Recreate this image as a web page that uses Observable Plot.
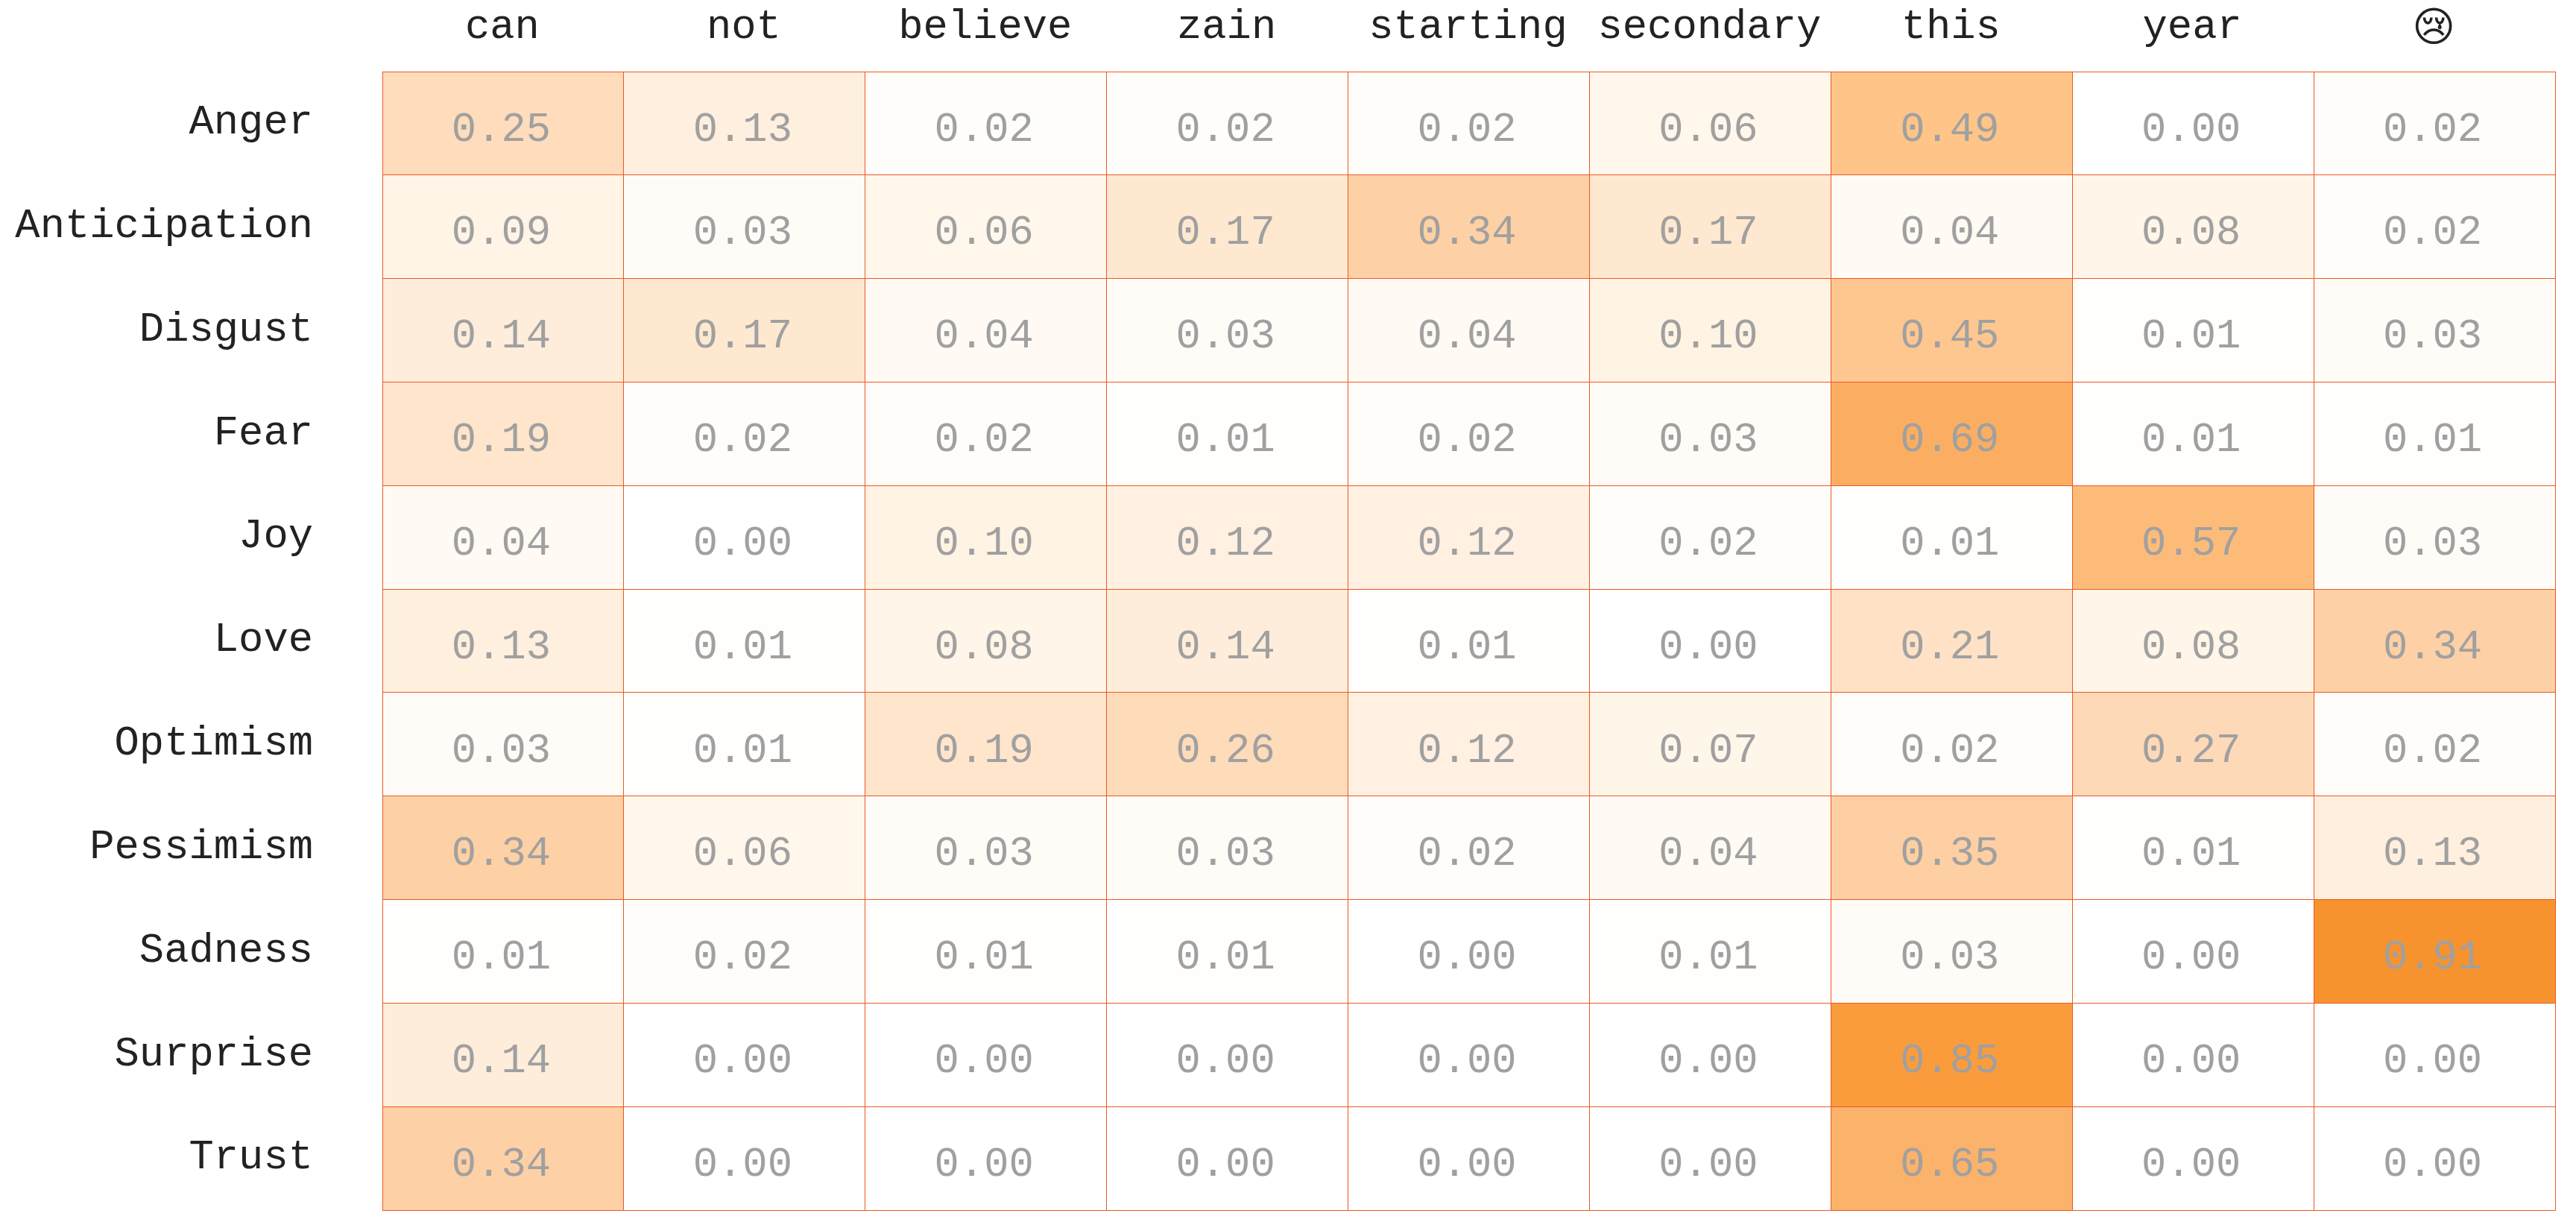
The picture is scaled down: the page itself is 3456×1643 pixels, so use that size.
<!DOCTYPE html>
<html>
<head>
<meta charset="utf-8">
<style>html,body{margin:0;padding:0;background:#fff;}svg{display:block;}</style>
<script src="https://cdn.jsdelivr.net/npm/d3@7"></script>
<script src="https://cdn.jsdelivr.net/npm/@observablehq/plot@0.6"></script>
</head>
<body>
<div id="chart"></div>
<script>
const wordTokens = ["can","not","believe","zain","starting","secondary","this","year"];
const emojiToken = "😢";
const tokens = [...wordTokens, emojiToken];
const emotions = ["Anger","Anticipation","Disgust","Fear","Joy","Love","Optimism","Pessimism","Sadness","Surprise","Trust"];
const anger = [0.25,0.13,0.02,0.02,0.02,0.06,0.49,0.00,0.02];
const anticipation = [0.09,0.03,0.06,0.17,0.34,0.17,0.04,0.08,0.02];
const disgust = [0.14,0.17,0.04,0.03,0.04,0.10,0.45,0.01,0.03];
const fear = [0.19,0.02,0.02,0.01,0.02,0.03,0.69,0.01,0.01];
const joy = [0.04,0.00,0.10,0.12,0.12,0.02,0.01,0.57,0.03];
const love = [0.13,0.01,0.08,0.14,0.01,0.00,0.21,0.08,0.34];
const optimism = [0.03,0.01,0.19,0.26,0.12,0.07,0.02,0.27,0.02];
const pessimism = [0.34,0.06,0.03,0.03,0.02,0.04,0.35,0.01,0.13];
const sadness = [0.01,0.02,0.01,0.01,0.00,0.01,0.03,0.00,0.91];
const surprise = [0.14,0.00,0.00,0.00,0.00,0.00,0.85,0.00,0.00];
const trust = [0.34,0.00,0.00,0.00,0.00,0.00,0.65,0.00,0.00];
const rows = [anger,anticipation,disgust,fear,joy,love,optimism,pessimism,sadness,surprise,trust];
const colorStops = [0,0.01,0.03,0.06,0.09,0.13,0.17,0.25,0.34,0.49,0.65,0.85,0.91];
const colorRange = ["#ffffff","#fffefc","#fffcf8","#fff7ec","#fff4e6","#ffefdf","#ffe8d0","#fedcbc","#fed0a5","#fec488","#fbb26a","#fa9c3c","#f6932f"];

const data = rows.flatMap((r,i)=>r.map((v,j)=>({emotion:emotions[i],token:tokens[j],value:v})));
const mono = '"Liberation Mono","DejaVu Sans",monospace';

const plot = Plot.plot({
  width:3456, height:1643,
  marginLeft:513, marginRight:28, marginTop:96, marginBottom:20,
  style:{fontFamily:mono, background:"#fff"},
  x:{domain:tokens, padding:0, round:false, label:null},
  y:{domain:emotions, padding:0, round:false, label:null},
  color:{type:"linear", domain:colorStops, range:colorRange, interpolate:"rgb"},
  marks:[
    Plot.cell(data,{x:"token",y:"emotion",fill:"value",stroke:"#ec5823",strokeWidth:1,shapeRendering:"crispEdges"}),
    Plot.text(data,{x:"token",y:"emotion",text:d=>d.value.toFixed(2),fill:"#a0a0a0",fontSize:55.5,fontFamily:mono,dx:-3,dy:5}),
    Plot.axisX(wordTokens,{anchor:"top",tickSize:0,tickPadding:46,fontSize:55.5,fontFamily:mono,label:null,color:"#222",lineAnchor:"bottom",dx:-1.5}),
    Plot.text([emojiToken],{x:d=>d,text:d=>d,frameAnchor:"top",lineAnchor:"bottom",dy:-42,dx:-1.5,fontSize:55.5,fontFamily:mono,fill:"#222"}),
    Plot.axisY({anchor:"left",tickSize:0,tickPadding:93.5,fontSize:55.5,fontFamily:mono,label:null,color:"#222",dy:-4.5})
  ]
});
document.getElementById("chart").appendChild(plot);
</script>
</body>
</html>
